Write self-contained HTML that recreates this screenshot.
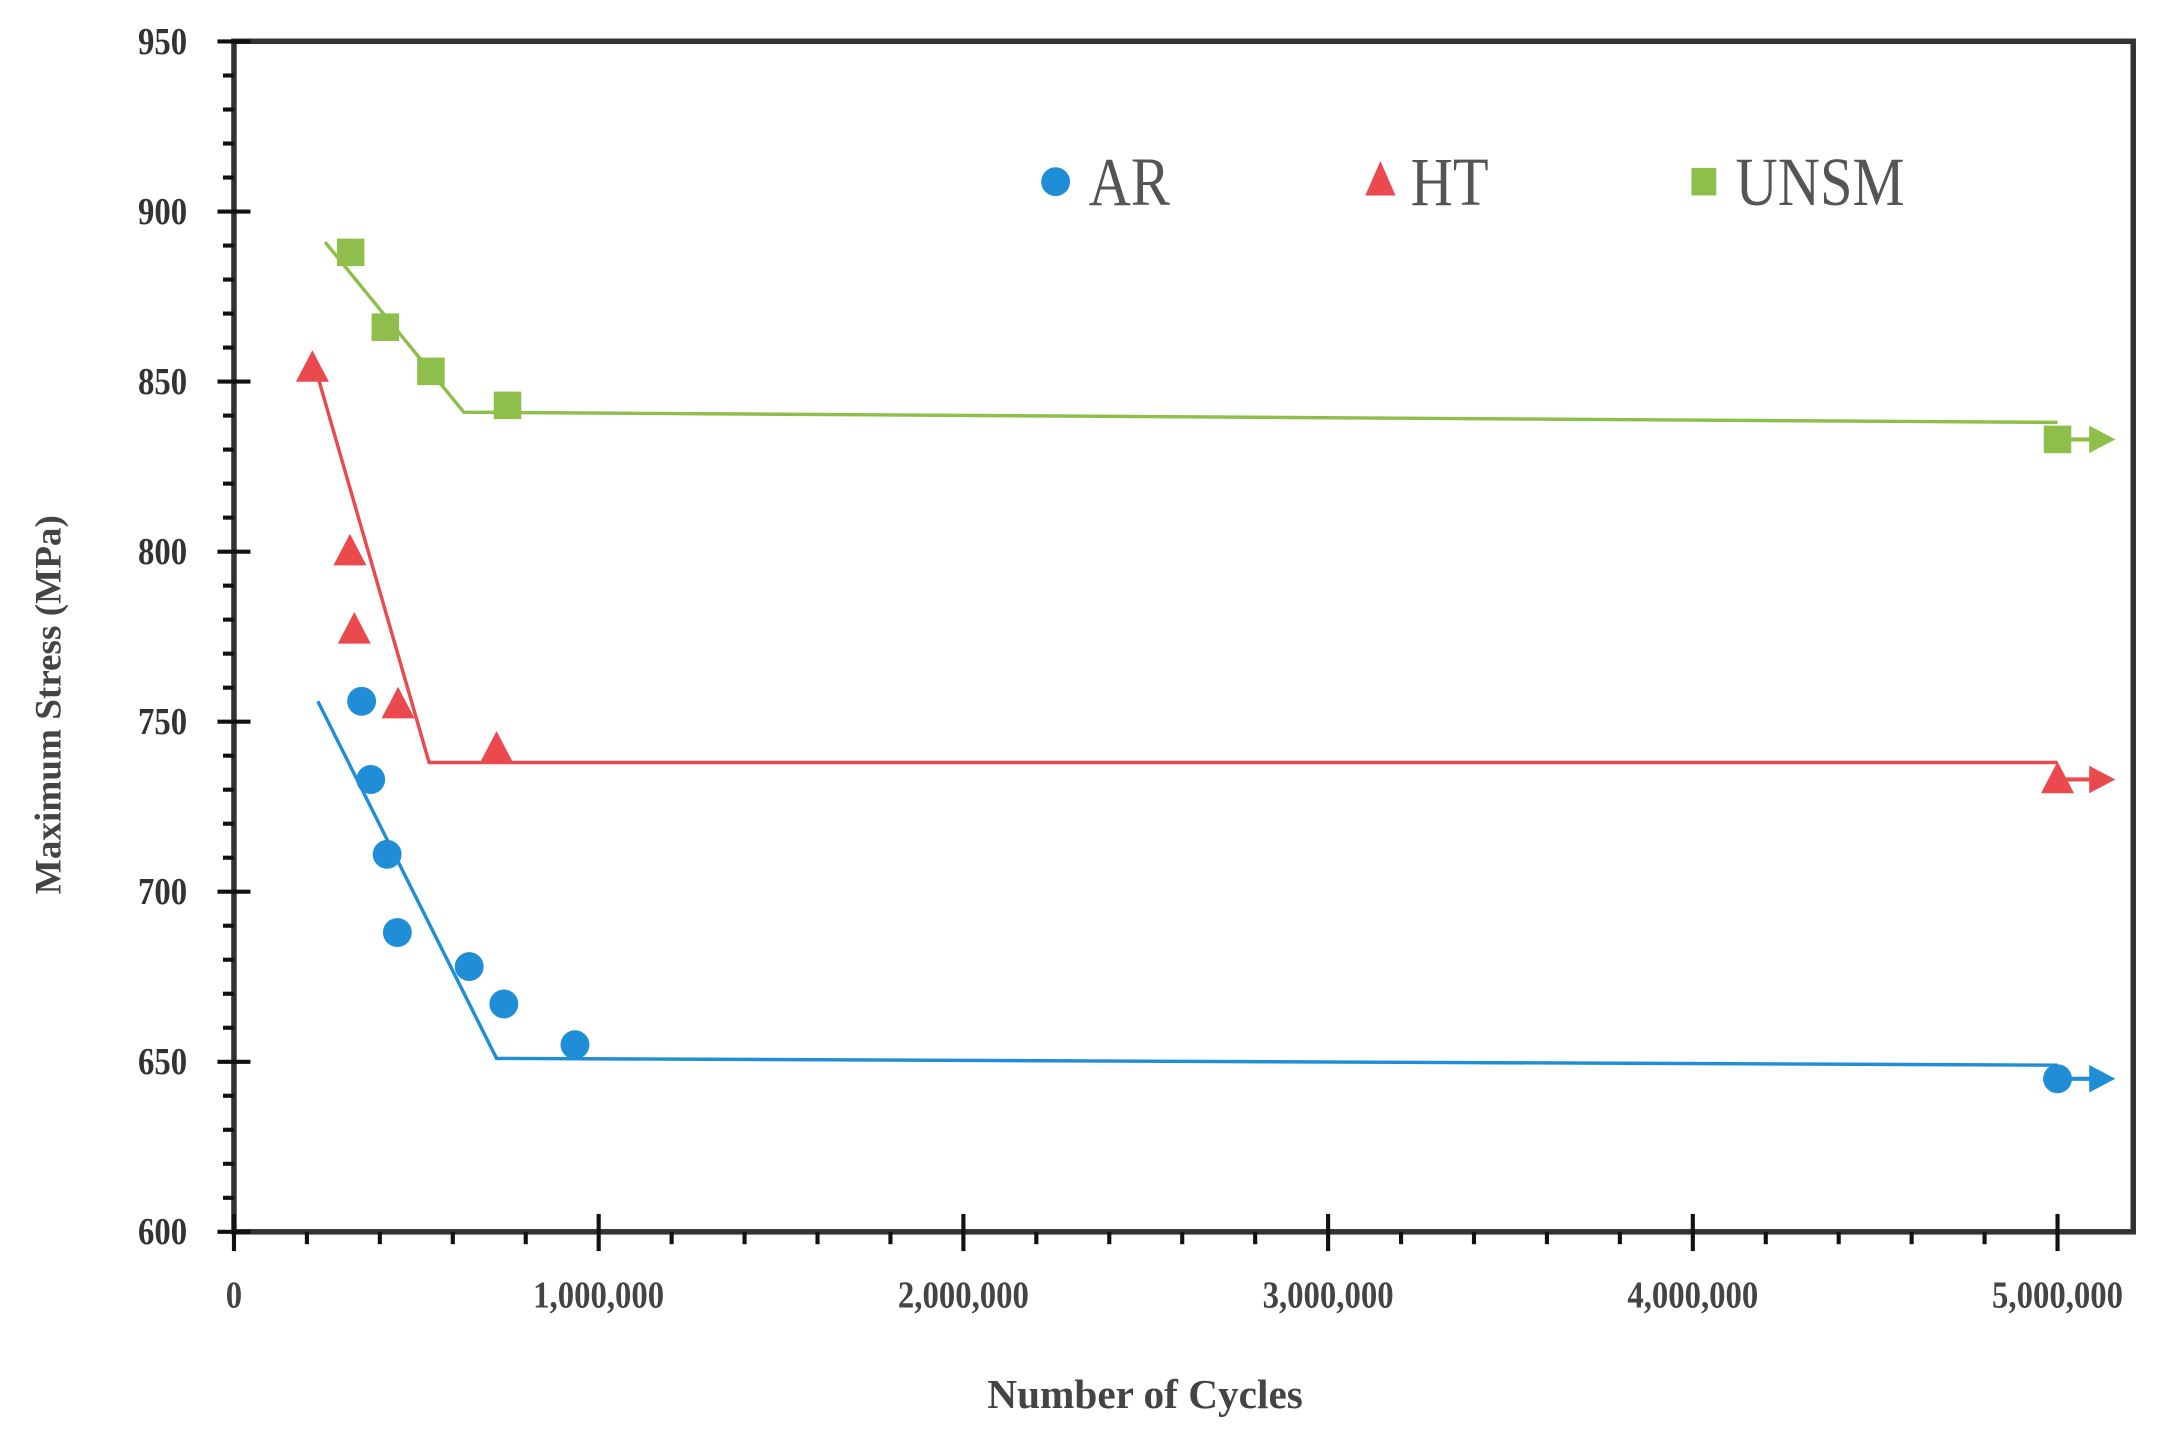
<!DOCTYPE html>
<html><head><meta charset="utf-8"><style>
html,body{margin:0;padding:0;background:#fff;}
svg{display:block;}
text{font-family:"Liberation Serif",serif;}
</style></head><body>
<svg id="s" width="2158" height="1430" viewBox="0 0 1568 1039" preserveAspectRatio="none" xmlns="http://www.w3.org/2000/svg"></svg>
<script>
const s=document.getElementById('s');
const X=n=>170+265*n/1e6, Y=v=>895-(v-600)*2.471;
let h='';
h+=`<rect x="170" y="30" width="1380" height="865" fill="none" stroke="#333" stroke-width="4"/>`;
for(let v=600;v<=950;v+=10){const y=Y(v);const maj=v%50==0;
 h+=`<line x1="${maj?158:162}" x2="${maj?182:170}" y1="${y}" y2="${y}" stroke="#111" stroke-width="3"/>`;
 if(maj)h+=`<text x="136" y="${y+9}" font-size="28" font-weight="bold" fill="#333" text-anchor="end" transform="translate(136 0) scale(0.85 1) translate(-136 0)">${v}</text>`;}
for(let n=0;n<=5e6;n+=2e5){const x=X(n);const maj=n%1e6==0;
 h+=`<line x1="${x}" x2="${x}" y1="${maj?882:895}" y2="${maj?909:904}" stroke="#111" stroke-width="3"/>`;
 if(maj){const l=n==0?'0':(n/1e6)+',000,000';
 h+=`<text x="${x}" y="950" font-size="28" font-weight="bold" fill="#444" text-anchor="middle" transform="translate(${x} 0) scale(0.85 1) translate(${-x} 0)">${l}</text>`;}}
h+=`<text x="832" y="1023" font-size="30" font-weight="bold" fill="#444" text-anchor="middle">Number of Cycles</text>`;
h+=`<text transform="translate(44 512) rotate(-90)" font-size="27" font-weight="bold" fill="#444" text-anchor="middle">Maximum Stress (MPa)</text>`;
function series(col,line,pts,mk){
 h+=`<polyline points="${line.map(p=>X(p[0])+','+Y(p[1])).join(' ')}" fill="none" stroke="${col}" stroke-width="2.5"/>`;
 const last=pts[pts.length-1];const ly=Y(last[1]);
 h+=`<line x1="${X(5e6)}" x2="1522" y1="${ly}" y2="${ly}" stroke="${col}" stroke-width="3"/>`;
 h+=`<polygon points="1518,${ly-10} 1537,${ly} 1518,${ly+10}" fill="${col}"/>`;
 pts.forEach(p=>h+=mk(X(p[0]),Y(p[1]),col));}
const circ=(x,y,c)=>`<circle cx="${x}" cy="${y}" r="10.5" fill="${c}"/>`;
const tri=(x,y,c)=>`<polygon points="${x},${y-13} ${x+12},${y+10} ${x-12},${y+10}" fill="${c}"/>`;
const sq=(x,y,c)=>`<rect x="${x-10}" y="${y-10}" width="20" height="20" fill="${c}"/>`;
series('#1f8ed6',[[230000,756],[720000,651],[5e6,649]],[[350000,756],[375000,733],[420000,711],[448000,688],[645000,678],[740000,667],[935000,655],[5e6,645]],circ);
series('#ea4a4e',[[215000,857],[535000,738],[5e6,738]],[[215000,854],[318000,800],[330000,777],[450000,755],[720000,742],[5e6,733]],tri);
series('#8dbf4a',[[250000,891],[630000,841],[5e6,838]],[[320000,888],[415000,866],[540000,853],[750000,843],[5e6,833]],sq);
h+=circ(767,132,'#1f8ed6')+`<text x="791" y="149" font-size="50" fill="#555" transform="translate(791 0) scale(0.85 1) translate(-791 0)">AR</text>`;
h+=`<polygon points="1003,117 1014,142 992,142" fill="#ea4a4e"/>`+`<text x="1025" y="149" font-size="50" fill="#555" transform="translate(1025 0) scale(0.85 1) translate(-1025 0)">HT</text>`;
h+=`<rect x="1229" y="122" width="18" height="20" fill="#8dbf4a"/>`+`<text x="1261" y="149" font-size="50" fill="#555" transform="translate(1261 0) scale(0.85 1) translate(-1261 0)">UNSM</text>`;
s.innerHTML=h;
</script>
</body></html>
